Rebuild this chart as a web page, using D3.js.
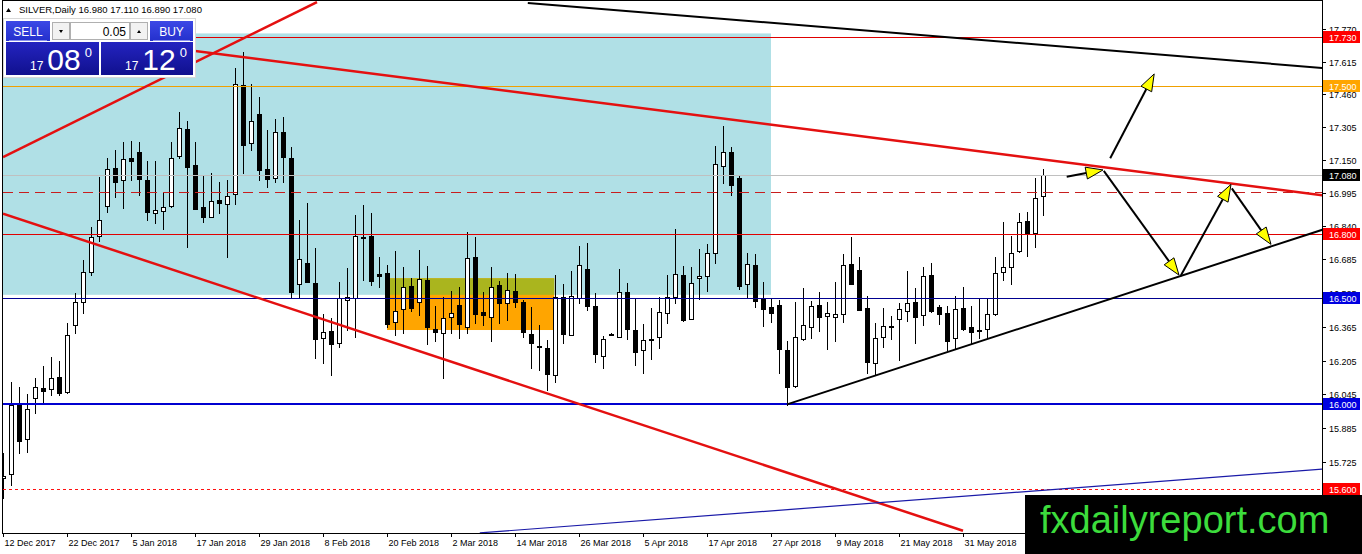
<!DOCTYPE html>
<html>
<head>
<meta charset="utf-8">
<script src="https://cdn.jsdelivr.net/npm/d3@7"></script>
<style>
body { margin: 0; background: #fff; }
svg { display: block; font-family: "Liberation Sans", Arial, sans-serif; }
</style>
</head>
<body>
<div id="chart"></div>
<script>
// daily candles, bar 0 = 12 Dec 2017
var opens = [15.650,15.670,16.003,15.833,16.027,16.074,16.069,16.126,16.058,16.371,
  16.483,16.624,16.792,16.936,17.112,17.057,17.160,17.189,17.057,16.899,
  16.909,16.934,17.171,17.296,17.127,16.928,16.881,16.962,16.942,16.991,
  17.505,17.230,17.368,17.108,17.064,17.281,17.159,16.566,16.667,16.569,
  16.310,16.344,16.286,16.491,16.498,16.790,16.792,16.612,16.616,16.385,
  16.447,16.557,16.480,16.585,16.352,16.336,16.409,16.467,16.365,16.695,
  16.434,16.412,16.561,16.475,16.535,16.483,16.330,16.272,16.263,16.135,
  16.503,16.325,16.502,16.635,16.462,16.228,16.329,16.314,16.527,16.349,
  16.255,16.305,16.314,16.428,16.503,16.607,16.403,16.593,16.605,16.714,
  17.124,17.187,17.064,16.564,16.656,16.494,16.456,16.467,16.255,16.086,
  16.307,16.365,16.467,16.417,16.412,16.425,16.660,16.632,16.451,16.192,
  16.314,16.368,16.399,16.440,16.480,16.418,16.608,16.456,16.428,16.310,
  16.451,16.362,16.351,16.352,16.425,16.624,16.648,16.722,16.865,16.805,
  16.980];
var highs = [15.767,16.105,16.082,16.047,16.124,16.179,16.223,16.203,16.384,16.522,
  16.679,16.836,17.072,17.159,17.198,17.237,17.241,17.237,17.146,17.146,
  16.998,17.237,17.376,17.333,17.237,17.077,17.088,17.049,17.057,17.585,
  17.660,17.509,17.450,17.292,17.343,17.352,17.214,16.868,16.947,16.734,
  16.425,16.404,16.577,16.640,16.892,16.939,16.899,16.695,16.656,16.722,
  16.645,16.593,16.726,16.651,16.462,16.503,16.535,16.550,16.813,16.786,
  16.530,16.645,16.582,16.616,16.613,16.491,16.459,16.373,16.302,16.608,
  16.566,16.629,16.745,16.758,16.525,16.321,16.334,16.635,16.572,16.494,
  16.376,16.451,16.506,16.608,16.824,16.651,16.645,16.730,16.753,17.217,
  17.311,17.211,17.080,16.711,16.708,16.574,16.498,16.491,16.297,16.483,
  16.549,16.487,16.527,16.480,16.577,16.708,16.789,16.692,16.509,16.381,
  16.451,16.415,16.475,16.627,16.546,16.645,16.667,16.467,16.464,16.509,
  16.553,16.464,16.498,16.494,16.692,16.857,16.792,16.903,16.907,17.064,
  17.110];
var lows = [15.555,15.618,15.770,15.775,15.956,16.003,16.042,16.042,16.053,16.336,
  16.428,16.608,16.770,16.907,16.978,16.926,17.057,16.986,16.868,16.855,
  16.824,16.931,17.159,16.742,16.918,16.857,16.881,16.899,16.695,16.942,
  17.088,17.198,17.057,17.022,17.049,17.049,16.506,16.506,16.575,16.215,
  16.192,16.137,16.267,16.349,16.318,16.585,16.561,16.553,16.365,16.325,
  16.336,16.440,16.420,16.283,16.299,16.121,16.333,16.310,16.336,16.381,
  16.373,16.299,16.381,16.396,16.459,16.318,16.168,16.160,16.066,16.105,
  16.289,16.325,16.475,16.443,16.200,16.168,16.324,16.314,16.305,16.184,
  16.148,16.211,16.266,16.381,16.478,16.393,16.399,16.494,16.533,16.667,
  17.044,16.986,16.542,16.506,16.456,16.369,16.385,16.145,15.995,16.082,
  16.302,16.310,16.344,16.259,16.299,16.388,16.566,16.443,16.148,16.142,
  16.270,16.307,16.208,16.393,16.286,16.373,16.436,16.376,16.255,16.258,
  16.349,16.286,16.310,16.310,16.420,16.585,16.566,16.719,16.700,16.742,
  16.890];
var closes = [15.660,15.995,15.827,15.975,16.079,16.063,16.121,16.053,16.324,16.481,
  16.621,16.786,16.868,17.107,17.049,17.154,17.148,17.060,16.904,16.914,
  16.928,17.159,17.300,17.119,16.918,16.884,16.956,16.947,16.983,17.509,
  17.223,17.333,17.102,17.060,17.281,17.167,16.527,16.686,16.575,16.307,
  16.338,16.281,16.498,16.503,16.792,16.789,16.582,16.605,16.377,16.440,
  16.550,16.451,16.588,16.362,16.341,16.404,16.431,16.377,16.687,16.425,
  16.421,16.553,16.478,16.538,16.483,16.341,16.289,16.269,16.140,16.506,
  16.329,16.511,16.656,16.464,16.234,16.305,16.329,16.530,16.352,16.247,
  16.302,16.307,16.432,16.506,16.612,16.396,16.572,16.604,16.711,17.131,
  17.190,17.033,16.557,16.659,16.487,16.450,16.431,16.258,16.082,16.314,
  16.373,16.462,16.412,16.428,16.425,16.656,16.566,16.443,16.200,16.310,
  16.368,16.362,16.447,16.475,16.412,16.604,16.440,16.423,16.299,16.447,
  16.352,16.341,16.347,16.423,16.619,16.645,16.711,16.860,16.802,16.970,
  17.080];

var dateLabels = ["12 Dec 2017","22 Dec 2017","5 Jan 2018","17 Jan 2018","29 Jan 2018",
  "8 Feb 2018","20 Feb 2018","2 Mar 2018","14 Mar 2018","26 Mar 2018","5 Apr 2018",
  "17 Apr 2018","27 Apr 2018","9 May 2018","21 May 2018","31 May 2018"];
var labelStep = 8; // a date label every 8 bars
var priceTicks = [17.770,17.615,17.460,17.305,17.150,16.995,16.840,16.685,16.525,
  16.365,16.205,16.045,15.885,15.725];

// horizontal levels with a price box on the axis
var levelPrices = [17.730, 17.500, 17.080, 16.800, 16.500, 16.000, 15.600];
var dashedLevel = 17.000;

// zones [bar from, bar to, price low, price high]
var zoneBlue = [-1, 96, 16.515, 17.748];
var zoneOrange = [48, 68.9, 16.349, 16.593];

// trend lines as [bar, price] end points
var redUp = [[0, 17.165], [39.25, 17.896]];
var redTop = [[0, 17.781], [165, 16.984]];
var redLow = [[0, 16.898], [120, 15.402]];
var blackTop = [[65.6, 17.892], [165, 17.585]];
var blackSupport = [[98, 15.998], [165, 16.823]];
var blueLow = [[59.6, 15.392], [165, 15.693]];

// projected path arrows [from, to]
var arrows = [
  [[132.96, 17.072], [137.5, 17.104]],
  [[138.4, 17.159], [143.9, 17.557]],
  [[137.6, 17.100], [147.0, 16.608]],
  [[147.2, 16.604], [153.5, 17.036]],
  [[153.6, 17.017], [158.5, 16.753]]
];

var W = 1362, H = 554;
var plotL = 3, plotR = 1322, plotT = 1, plotB = 533;

var x = d3.scaleLinear().domain([0, 1]).range([3, 11]);
var y = d3.scaleLinear().domain([16, 17]).range([404, 192]);
function py(p) { return Math.round(y(p)) + 0.5; }

var svg = d3.select("#chart").append("svg").attr("width", W).attr("height", H);
var defs = svg.append("defs");
defs.append("clipPath").attr("id", "plot")
  .append("rect").attr("x", plotL).attr("y", plotT).attr("width", plotR - plotL).attr("height", plotB - plotT);

var plot = svg.append("g").attr("clip-path", "url(#plot)");

// zones
plot.append("rect")
  .attr("x", x(zoneBlue[0])).attr("width", x(zoneBlue[1]) - x(zoneBlue[0]))
  .attr("y", y(zoneBlue[3])).attr("height", y(zoneBlue[2]) - y(zoneBlue[3]))
  .attr("fill", "#b0e0e6");
plot.append("rect")
  .attr("x", x(zoneOrange[0])).attr("width", x(zoneOrange[1]) - x(zoneOrange[0]))
  .attr("y", y(zoneOrange[3])).attr("height", y(zoneOrange[2]) - y(zoneOrange[3]))
  .attr("fill", "#ffa500");
// overlap of the two zones
plot.append("rect")
  .attr("x", x(zoneOrange[0])).attr("width", x(zoneOrange[1]) - x(zoneOrange[0]))
  .attr("y", y(zoneOrange[3])).attr("height", y(zoneBlue[2]) - y(zoneOrange[3]))
  .attr("fill", "#aab51e");

// candles
var bars = d3.range(opens.length).map(function (i) {
  return { i: i, o: opens[i], h: highs[i], l: lows[i], c: closes[i] };
});
var gC = plot.append("g").attr("shape-rendering", "crispEdges");
gC.selectAll("line").data(bars).join("line")
  .attr("x1", function (d) { return Math.round(x(d.i)) + 0.5; })
  .attr("x2", function (d) { return Math.round(x(d.i)) + 0.5; })
  .attr("y1", function (d) { return Math.round(y(d.h)); })
  .attr("y2", function (d) { return Math.round(y(d.l)) + 1; })
  .attr("stroke", "#000");
gC.selectAll("rect").data(bars).join("rect")
  .attr("x", function (d) { return Math.round(x(d.i)) - 2 + 0.5; })
  .attr("width", 4)
  .attr("y", function (d) { return Math.round(y(Math.max(d.o, d.c))) + 0.5; })
  .attr("height", function (d) {
    return Math.max(1, Math.round(y(Math.min(d.o, d.c))) - Math.round(y(Math.max(d.o, d.c))));
  })
  .attr("fill", function (d) { return d.c >= d.o ? "#fff" : "#000"; })
  .attr("stroke", "#000");

// horizontal levels
var levelStyle = [
  { stroke: "#e00000", w: 1, box: "#ff0000" },
  { stroke: "#f0a000", w: 1, box: "#ffa500" },
  { stroke: "#c0c0c0", w: 1, box: "#000000" },
  { stroke: "#e00000", w: 1, box: "#ff0000" },
  { stroke: "#000090", w: 1, box: "#0000e0" },
  { stroke: "#0000d0", w: 2, box: "#0000e0" },
  { stroke: "#ff1010", w: 1, box: "#ff0000", dash: "3,3" }
];
var gL = plot.append("g").attr("shape-rendering", "crispEdges");
levelPrices.forEach(function (p, k) {
  var s = levelStyle[k];
  var ly = s.w === 2 ? Math.round(y(p)) : py(p);
  gL.append("line").attr("x1", plotL).attr("x2", plotR).attr("y1", ly).attr("y2", ly)
    .attr("stroke", s.stroke).attr("stroke-width", s.w)
    .attr("stroke-dasharray", s.dash || null);
});
gL.append("line").attr("x1", plotL).attr("x2", plotR)
  .attr("y1", py(dashedLevel)).attr("y2", py(dashedLevel))
  .attr("stroke", "#c81e1e").attr("stroke-dasharray", "10,6");

// trend lines
var line = d3.line().x(function (d) { return x(d[0]); }).y(function (d) { return y(d[1]); });
[[redUp, "#e41010", 2.5], [redTop, "#e41010", 2.5], [redLow, "#e41010", 2.5],
 [blackTop, "#000", 2], [blackSupport, "#000", 2], [blueLow, "#1a1aa8", 1.2]].forEach(function (t) {
  plot.append("path").attr("d", line(t[0])).attr("fill", "none")
    .attr("stroke", t[1]).attr("stroke-width", t[2]);
});

// arrows
var gA = plot.append("g");
arrows.forEach(function (a) {
  var x1 = x(a[0][0]), y1 = y(a[0][1]), x2 = x(a[1][0]), y2 = y(a[1][1]);
  var ang = Math.atan2(y2 - y1, x2 - x1);
  var len = 17, half = 6;
  var bx = x2 - len * Math.cos(ang), by = y2 - len * Math.sin(ang);
  gA.append("line").attr("x1", x1).attr("y1", y1).attr("x2", bx).attr("y2", by)
    .attr("stroke", "#000").attr("stroke-width", 2);
  var pts = [[x2, y2],
    [bx + half * Math.sin(ang), by - half * Math.cos(ang)],
    [bx - half * Math.sin(ang), by + half * Math.cos(ang)]];
  gA.append("path").attr("d", "M" + pts.join("L") + "Z")
    .attr("fill", "#ffff00").attr("stroke", "#000").attr("stroke-width", 1);
});

// frame and axes
var gF = svg.append("g").attr("shape-rendering", "crispEdges").attr("stroke", "#000");
gF.append("line").attr("x1", 2.5).attr("x2", 2.5).attr("y1", 0).attr("y2", plotB + 1);
gF.append("line").attr("x1", 2).attr("x2", plotR + 1).attr("y1", 0.5).attr("y2", 0.5);
gF.append("line").attr("x1", plotR + 0.5).attr("x2", plotR + 0.5).attr("y1", 0).attr("y2", plotB + 1);
gF.append("line").attr("x1", 2).attr("x2", plotR + 1).attr("y1", plotB + 0.5).attr("y2", plotB + 0.5);

// price axis
var gY = svg.append("g").attr("font-size", 9).attr("fill", "#000");
priceTicks.forEach(function (p) {
  gY.append("line").attr("x1", plotR).attr("x2", plotR + 4)
    .attr("y1", py(p)).attr("y2", py(p)).attr("stroke", "#000").attr("shape-rendering", "crispEdges");
  gY.append("text").attr("x", plotR + 7).attr("y", Math.round(y(p)) + 3.5).text(p.toFixed(3));
});
levelPrices.forEach(function (p, k) {
  var cy = Math.round(y(p));
  gY.append("rect").attr("x", plotR + 1).attr("y", cy - 6).attr("width", 37).attr("height", 12)
    .attr("fill", levelStyle[k].box);
  gY.append("text").attr("x", plotR + 7).attr("y", cy + 3.5).attr("fill", "#fff").text(p.toFixed(3));
});

// date axis
var gX = svg.append("g").attr("font-size", 9).attr("fill", "#000");
dateLabels.forEach(function (lab, k) {
  var tx = Math.round(x(k * labelStep)) + 0.5;
  gX.append("line").attr("x1", tx).attr("x2", tx).attr("y1", plotB).attr("y2", plotB + 4)
    .attr("stroke", "#000").attr("shape-rendering", "crispEdges");
  gX.append("text").attr("x", tx + 1).attr("y", 546).text(lab);
});

// header text
var last = bars[bars.length - 1];
svg.append("path").attr("d", "M6,12L8.5,8L11,12Z").attr("fill", "#000");
svg.append("text").attr("x", 19).attr("y", 13).attr("font-size", 9.5)
  .text("SILVER,Daily  " + [last.o, last.h, last.l, last.c].map(function (v) { return v.toFixed(3); }).join(" "));

// one click trading panel
var gradBtn = defs.append("linearGradient").attr("id", "btn").attr("x1", 0).attr("y1", 0).attr("x2", 0).attr("y2", 1);
gradBtn.append("stop").attr("offset", 0).attr("stop-color", "#3c48e6");
gradBtn.append("stop").attr("offset", 1).attr("stop-color", "#2430cc");
var gradBox = defs.append("linearGradient").attr("id", "box").attr("x1", 0).attr("y1", 0).attr("x2", 0).attr("y2", 1);
gradBox.append("stop").attr("offset", 0).attr("stop-color", "#2424c0");
gradBox.append("stop").attr("offset", 1).attr("stop-color", "#10108e");

var gP = svg.append("g");
gP.append("rect").attr("x", 3.5).attr("y", 18.5).attr("width", 192).attr("height", 59)
  .attr("fill", "#fff").attr("stroke", "#d8d8d8");
[[6, 44, "SELL"], [150, 43, "BUY"]].forEach(function (b) {
  gP.append("rect").attr("x", b[0]).attr("y", 21).attr("width", b[1]).attr("height", 20).attr("fill", "url(#btn)");
  gP.append("line").attr("x1", b[0] + 3).attr("x2", b[0] + b[1] - 3).attr("y1", 40.5).attr("y2", 40.5)
    .attr("stroke", "#8a92ee");
  gP.append("text").attr("x", b[0] + b[1] / 2).attr("y", 35.5).attr("text-anchor", "middle")
    .attr("font-size", 12).attr("fill", "#fff").text(b[2]);
});
gP.append("rect").attr("x", 52.5).attr("y", 22.5).attr("width", 17).attr("height", 17).attr("fill", "#f2f2f2").attr("stroke", "#b0b0b0");
gP.append("rect").attr("x", 70.5).attr("y", 22.5).attr("width", 59).attr("height", 17).attr("fill", "#fff").attr("stroke", "#b0b0b0");
gP.append("rect").attr("x", 130.5).attr("y", 22.5).attr("width", 17).attr("height", 17).attr("fill", "#f2f2f2").attr("stroke", "#b0b0b0");
gP.append("path").attr("d", "M59,30L63,30L61,33Z").attr("fill", "#000");
gP.append("path").attr("d", "M137,33L141,33L139,30Z").attr("fill", "#000");
gP.append("text").attr("x", 126).attr("y", 35.5).attr("text-anchor", "end").attr("font-size", 12).text("0.05");

[[6, 93, "17", "08"], [101, 92, "17", "12"]].forEach(function (b) {
  gP.append("rect").attr("x", b[0]).attr("y", 42).attr("width", b[1]).attr("height", 33).attr("fill", "url(#box)");
  var t = gP.append("text").attr("fill", "#fff").attr("y", 70);
  t.append("tspan").attr("x", b[0] + 24).attr("font-size", 12).text(b[2]);
  t.append("tspan").attr("dx", 4).attr("font-size", 30).text(b[3]);
  t.append("tspan").attr("dx", 4).attr("dy", -13).attr("font-size", 13).text("0");
});

// watermark
svg.append("rect").attr("x", 1025).attr("y", 495).attr("width", W - 1025).attr("height", H - 495).attr("fill", "#000");
svg.append("text").attr("x", 1040).attr("y", 533).attr("font-size", 38).attr("fill", "#3cdc3c")
  .text("fxdailyreport.com");
</script>
</body>
</html>
